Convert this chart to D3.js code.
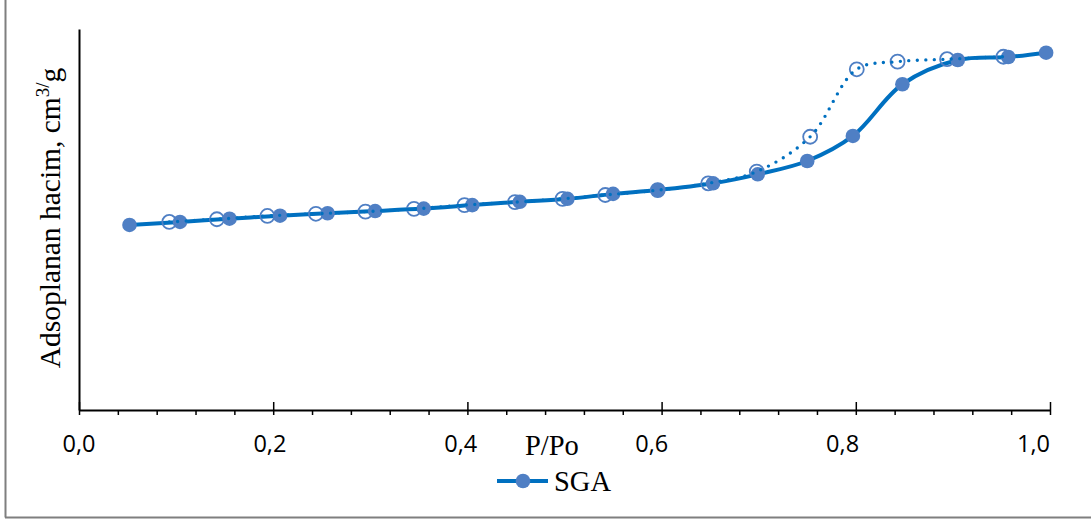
<!DOCTYPE html>
<html>
<head>
<meta charset="utf-8">
<script src="https://cdn.jsdelivr.net/npm/d3@7/dist/d3.min.js"></script>
<style>
  html, body { margin: 0; padding: 0; background: #ffffff; }
  svg { display: block; }
</style>
</head>
<body>
<script>
// Nitrogen isotherm of SGA: adsorption (filled) and desorption (open) branches
const adsP = [0.052, 0.104, 0.155, 0.207, 0.256, 0.305, 0.355, 0.405, 0.454, 0.503,
              0.550, 0.596, 0.653, 0.699, 0.750, 0.797, 0.848, 0.905, 0.957, 0.996];
const adsV = [68.0, 69.1, 70.3, 71.4, 72.3, 73.1, 74.0, 75.3, 76.5, 77.6,
              79.4, 80.8, 83.3, 86.6, 91.5, 100.7, 119.7, 128.6, 129.7, 131.3];

const desP = [0.093, 0.142, 0.194, 0.244, 0.295, 0.345, 0.397, 0.449, 0.498, 0.542,
              0.596, 0.648, 0.698, 0.753, 0.801, 0.843, 0.894, 0.952];
const desV = [69.1, 70.1, 71.3, 72.1, 72.9, 73.9, 75.3, 76.4, 77.6, 79.0,
              80.8, 83.3, 87.6, 100.4, 125.2, 128.0, 128.9, 129.8];

const majorTicks = [0, 0.2, 0.4, 0.6, 0.8, 1.0];
const tickLabels = ["0,0", "0,2", "0,4", "0,6", "0,8", "1,0"];
const seriesName = "SGA";
const xTitle = "P/Po";

const W = 1091, H = 519;
const blue = "#0070C0";
const markerBlue = "#4F7FC4";

const svg = d3.select("body").append("svg").attr("width", W).attr("height", H);

// outer frame (left and bottom edges)
svg.append("line").attr("x1", 5.5).attr("x2", 5.5).attr("y1", 0).attr("y2", 517.5)
  .attr("stroke", "#7f7f7f").attr("stroke-width", 2);
svg.append("line").attr("x1", 5).attr("x2", W).attr("y1", 517.5).attr("y2", 517.5)
  .attr("stroke", "#7f7f7f").attr("stroke-width", 2);

const x = d3.scaleLinear().domain([0, 1]).range([79, 1050]);
const y = d3.scaleLinear().domain([0, 140]).range([410, 29]);
// tick labels sit on a slightly narrower span than the tick marks
const xLabel = d3.scaleLinear().domain([0, 1]).range([79, 1033.5]);

const minorTicks = d3.range(0, 25).map(i => +(i * 0.04).toFixed(2)).filter(v => majorTicks.indexOf(v) < 0);

// x axis: domain line + minor ticks
const gMinor = svg.append("g").attr("transform", "translate(0,410)")
  .call(d3.axisBottom(x).tickValues(minorTicks).tickSize(5).tickSizeOuter(0).tickFormat(""));
gMinor.select(".domain").attr("stroke", "#000").attr("stroke-width", 2);
gMinor.selectAll(".tick line").attr("stroke", "#000").attr("stroke-width", 1.5);

// major ticks cross the axis line
const gMajor = svg.append("g").attr("transform", "translate(0,402)")
  .call(d3.axisBottom(x).tickValues(majorTicks).tickSize(13).tickSizeOuter(0).tickFormat(""));
gMajor.select(".domain").remove();
gMajor.selectAll(".tick line").attr("stroke", "#000").attr("stroke-width", 1.5);

// tick labels
svg.append("g").selectAll("text").data(majorTicks).join("text")
  .attr("x", d => xLabel(d)).attr("y", 451.5)
  .attr("text-anchor", "middle")
  .attr("font-family", "'Open Sans', sans-serif").attr("font-size", 23.5)
  .attr("fill", "#000")
  .text((d, i) => tickLabels[i]);

// y axis line (no ticks)
const gY = svg.append("g").attr("transform", "translate(79,0)")
  .call(d3.axisLeft(y).tickValues([]).tickSizeOuter(0));
gY.select(".domain").attr("stroke", "#000").attr("stroke-width", 2);

// axis titles
svg.append("text").attr("x", 525).attr("y", 455)
  .attr("font-family", "'Liberation Serif', 'Times New Roman', serif").attr("font-size", 28.5)
  .attr("fill", "#000").text(xTitle);

const yt = svg.append("text")
  .attr("transform", "translate(60,218) rotate(-90)")
  .attr("text-anchor", "middle")
  .attr("font-family", "'Liberation Serif', 'Times New Roman', serif").attr("font-size", 29.5)
  .attr("fill", "#000");
yt.append("tspan").text("Adsoplanan hacim, cm");
yt.append("tspan").attr("font-size", 19).attr("dy", -11).text("3/");
yt.append("tspan").attr("dy", 11).text("g");

const ads = adsP.map((p, i) => [p, adsV[i]]);
const des = desP.map((p, i) => [p, desV[i]]);

const line = d3.line().x(d => x(d[0])).y(d => y(d[1])).curve(d3.curveCatmullRom.alpha(0.5));

// adsorption branch: solid smoothed line
svg.append("path").datum(ads).attr("d", line)
  .attr("fill", "none").attr("stroke", blue).attr("stroke-width", 4).attr("stroke-linejoin", "round");

// desorption markers (open circles)
svg.append("g").selectAll("circle").data(des).join("circle")
  .attr("cx", d => x(d[0])).attr("cy", d => y(d[1])).attr("r", 7)
  .attr("fill", "none").attr("stroke", markerBlue).attr("stroke-width", 1.8);

// adsorption markers (filled circles)
svg.append("g").selectAll("circle").data(ads).join("circle")
  .attr("cx", d => x(d[0])).attr("cy", d => y(d[1])).attr("r", 7.3)
  .attr("fill", markerBlue);

// desorption branch: round-dotted smoothed line
svg.append("path").datum(des).attr("d", line)
  .attr("fill", "none").attr("stroke", blue).attr("stroke-width", 3.4)
  .attr("stroke-linecap", "round").attr("stroke-dasharray", "0 8.5");

// legend
const lg = svg.append("g");
lg.append("line").attr("x1", 497).attr("x2", 548).attr("y1", 481).attr("y2", 481)
  .attr("stroke", blue).attr("stroke-width", 4);
lg.append("circle").attr("cx", 523).attr("cy", 481).attr("r", 7.3).attr("fill", markerBlue);
lg.append("text").attr("x", 554).attr("y", 491)
  .attr("font-family", "'Liberation Serif', 'Times New Roman', serif").attr("font-size", 28.5)
  .attr("fill", "#000").text(seriesName);
</script>
</body>
</html>
